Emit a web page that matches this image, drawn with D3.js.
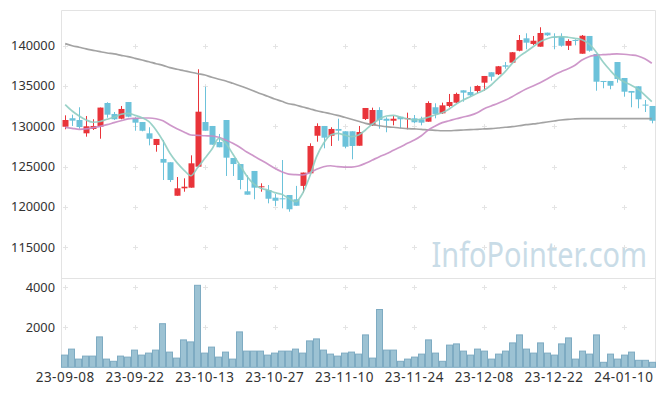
<!DOCTYPE html>
<html>
<head>
<meta charset="utf-8">
<script src="https://cdn.jsdelivr.net/npm/d3@7"></script>
<style>
  body { margin: 0; background: #fff; }
  svg { display: block; font-family: "Noto Sans", sans-serif; }
</style>
</head>
<body>
<div id="chart"></div>
<script>
// Trading days (KRX)
const dates = [
  "23-09-08","23-09-11","23-09-12","23-09-13","23-09-14","23-09-15","23-09-18","23-09-19","23-09-20","23-09-21",
  "23-09-22","23-09-25","23-09-26","23-09-27","23-10-04","23-10-05","23-10-06","23-10-10","23-10-11","23-10-12",
  "23-10-13","23-10-16","23-10-17","23-10-18","23-10-19","23-10-20","23-10-23","23-10-24","23-10-25","23-10-26",
  "23-10-27","23-10-30","23-10-31","23-11-01","23-11-02","23-11-03","23-11-06","23-11-07","23-11-08","23-11-09",
  "23-11-10","23-11-13","23-11-14","23-11-15","23-11-16","23-11-17","23-11-20","23-11-21","23-11-22","23-11-23",
  "23-11-24","23-11-27","23-11-28","23-11-29","23-11-30","23-12-01","23-12-04","23-12-05","23-12-06","23-12-07",
  "23-12-08","23-12-11","23-12-12","23-12-13","23-12-14","23-12-15","23-12-18","23-12-19","23-12-20","23-12-21",
  "23-12-22","23-12-26","23-12-27","23-12-28","24-01-02","24-01-03","24-01-04","24-01-05","24-01-08","24-01-09",
  "24-01-10","24-01-11","24-01-12","24-01-15","24-01-16"
];

const openP = [
  129950,131000,130780,129130,129670,129950,132890,131530,130940,133010,
  131030,130530,129130,127680,125950,125540,121390,122310,122390,124990,
  130530,130040,128050,130780,126070,125320,121940,124460,122450,122100,
  121150,121070,121480,120950,122610,124170,128830,130040,128830,129670,
  129380,129380,127590,130910,130120,132020,130940,130690,131190,130870,
  130990,130870,130570,132360,131610,132520,132930,134460,134250,134380,
  135410,136700,136450,137560,137890,139370,140910,140210,139870,141610,
  141110,141110,139990,140700,139000,141200,138970,135620,135620,137970,
  135990,134380,134960,132690,132520
];
const highP = [
  131360,131440,132360,131280,130870,132320,132980,131770,132520,133010,
  131120,130530,129880,128430,128300,125540,123710,123550,126400,137070,
  134910,130040,129050,130780,126070,125320,123920,124460,122930,122720,
  121610,125820,121480,122610,124260,127890,130370,130040,129880,130940,
  129380,129380,130040,132270,132310,132360,131120,131280,131190,131690,
  131400,131190,133100,132850,132930,134010,134170,134460,134910,135080,
  136240,136700,137480,137970,139210,141320,141530,141200,142280,141610,
  141530,141530,140790,140790,141320,141200,138970,135620,135620,137970,
  135990,134380,134960,133260,132520
];
const lowP = [
  129630,130040,129700,128710,129540,128460,131070,130780,130870,131120,
  129450,129380,127640,126850,123340,123090,121390,121890,122390,124920,
  129450,127720,127400,123840,123840,122190,121520,120950,121890,120450,
  120120,119830,119410,120150,121780,124170,128090,127270,127560,128210,
  127270,125910,127590,130780,130040,129700,129260,130120,129750,129630,
  130370,130120,130570,130990,131530,132360,132850,133050,133670,134090,
  134410,135650,136360,137140,137810,139300,139550,140080,139870,141200,
  139550,139870,139460,140040,139000,139250,134410,134710,134590,135410,
  133670,132360,132230,131770,130370
];
const closeP = [
  130780,130700,129910,130000,130040,132320,131440,130870,132150,131190,
  130450,129450,128460,128430,125490,123340,122310,122510,125410,131810,
  129450,127720,127400,126110,125320,123340,121520,122390,122560,121020,
  120770,120990,119710,120150,124260,127560,130040,128590,129670,129450,
  127470,127560,129290,132270,132020,130780,130690,130940,130870,131030,
  130500,130450,132890,131530,132600,133010,134010,134170,133840,135000,
  136240,136150,137440,137390,139180,140700,140370,140610,141570,141280,
  141040,139990,140580,140610,141230,139370,135530,135490,135030,135870,
  134290,134170,133350,132610,130690
];
const volume = [
  610,910,410,560,560,1520,410,300,560,510,
  860,610,710,860,2180,760,460,1370,1270,4100,
  710,1010,510,760,410,1770,810,810,810,610,
  710,810,810,910,710,1320,1420,860,660,560,
  710,760,660,1620,460,2890,860,860,300,410,
  510,660,1370,710,300,1110,1170,810,610,910,
  810,410,660,810,1220,1620,910,710,1220,710,
  610,1170,1470,410,810,660,1620,250,660,410,
  610,760,350,350,250
];
const ma5 = [
  132700,131900,131280,130780,130500,130600,130870,131120,131490,131610,
  131360,131070,130570,129540,128210,126650,125490,124580,123870,124920,
  126030,127150,128510,127890,126560,125200,123840,122850,122310,122100,
  121770,121570,121070,120650,121690,123750,126230,127890,128920,129130,
  128920,128710,128920,129540,130290,130910,131280,131360,131120,130940,
  130780,130910,131120,131440,131690,132150,132770,133260,133670,134090,
  134500,135120,135950,136770,137810,138630,139250,139870,140490,140860,
  141070,141110,141040,140910,140740,140210,139250,138010,136980,136080,
  135530,135120,134630,133880,133050
];
const ma20 = [
  129880,129750,129630,129670,129830,130000,130200,130450,130690,130910,
  130990,131030,131030,130940,130690,130160,129700,129290,128920,128880,
  128830,128800,128640,128300,127890,127400,126810,126320,125820,125320,
  124790,124370,124080,124000,123960,124250,124670,124990,125110,124990,
  124950,124950,125080,125410,125820,126230,126600,127020,127430,127890,
  128300,128830,129540,130040,130450,130690,130940,131150,131360,131690,
  132180,132520,132850,133220,133670,134170,134630,135000,135410,135870,
  136360,136770,137140,137560,138220,138630,138800,138880,138930,138970,
  138930,138840,138720,138380,137810
];
const ma60 = [
  140250,139990,139800,139590,139420,139250,139090,138970,138800,138630,
  138430,138220,138010,137760,137560,137270,137070,136890,136700,136520,
  136360,136080,135830,135620,135330,135030,134710,134380,134040,133720,
  133390,133100,132800,132640,132390,132180,131930,131740,131560,131360,
  131120,130870,130620,130370,130200,130070,129950,129880,129790,129700,
  129670,129630,129540,129500,129450,129450,129500,129540,129580,129630,
  129670,129700,129790,129880,129950,130070,130200,130290,130410,130530,
  130660,130780,130870,130910,130940,130950,130950,130950,130950,130950,
  130950,130950,130950,130950,130950
];

const priceTicks = [115000, 120000, 125000, 130000, 135000, 140000];
const volTicks = [2000, 4000];
const labelEvery = 10;

const width = 665, height = 396;
const left = 61, right = 656;
const priceTop = 10, priceBottom = 278;
const volTop = 278, volBottom = 367.3;

const svg = d3.select("#chart").append("svg")
  .attr("width", width)
  .attr("height", height);

const idx = d3.range(dates.length);

// x scales
const x = d3.scaleBand().domain(idx).range([left, right]).padding(0.2);
const xv = d3.scaleBand().domain(idx).range([left, right]).padding(0);
const cx = i => x(i) + x.bandwidth() / 2;

// y scales
const y = d3.scaleLinear().domain([111190, 144420]).range([priceBottom, priceTop]);
const yv = d3.scaleLinear().domain([0, 4465]).range([volBottom, volTop]);

const labelIdx = idx.filter(i => i % labelEvery === 0);

// panel borders
svg.append("path")
  .attr("d", `M${left + 0.5},${volBottom} V${priceTop + 0.5} H${right - 0.5} V${volBottom}`)
  .attr("fill", "none")
  .attr("stroke", "#e3e3e3");
svg.append("line")
  .attr("x1", left).attr("x2", right)
  .attr("y1", volTop + 0.5).attr("y2", volTop + 0.5)
  .attr("stroke", "#e3e3e3");

// grid crosses
const crosses = [];
labelIdx.forEach(i => {
  priceTicks.forEach(v => crosses.push([cx(i), y(v)]));
  volTicks.forEach(v => crosses.push([cx(i), yv(v)]));
});
svg.append("g").selectAll("path")
  .data(crosses)
  .enter()
  .append("path")
  .attr("d", d => `M${Math.round(d[0]) - 2},${Math.round(d[1]) + 0.5} h5 M${Math.round(d[0]) + 0.5},${Math.round(d[1]) - 2} v5`)
  .attr("stroke", "#e4e4e4")
  .attr("stroke-width", 1);

// watermark (slightly condensed)
svg.append("text")
  .attr("transform", "translate(647,267) scale(0.85,1)")
  .attr("text-anchor", "end")
  .attr("fill", "#c9dce7")
  .attr("font-size", 34)
  .text("InfoPointer.com");

// y axis labels
svg.append("g").selectAll("text")
  .data(priceTicks)
  .enter()
  .append("text")
  .attr("x", 55)
  .attr("y", d => y(d))
  .attr("dy", "0.35em")
  .attr("text-anchor", "end")
  .attr("font-size", 12.8)
  .attr("fill", "#333")
  .text(d => d);

svg.append("g").selectAll("text")
  .data(volTicks)
  .enter()
  .append("text")
  .attr("x", 55)
  .attr("y", d => yv(d))
  .attr("dy", "0.35em")
  .attr("text-anchor", "end")
  .attr("font-size", 12.8)
  .attr("fill", "#333")
  .text(d => d);

// x axis labels
svg.append("g").selectAll("text")
  .data(labelIdx)
  .enter()
  .append("text")
  .attr("x", d => cx(d))
  .attr("y", 382)
  .attr("text-anchor", "middle")
  .attr("font-size", 13.5)
  .attr("letter-spacing", 0.5)
  .attr("fill", "#333")
  .text(d => dates[d]);

// volume bars
svg.append("g").selectAll("rect")
  .data(idx)
  .enter()
  .append("rect")
  .attr("x", i => xv(i) + 0.5)
  .attr("y", i => yv(volume[i]))
  .attr("width", xv.bandwidth() - 1)
  .attr("height", i => volBottom - yv(volume[i]))
  .attr("fill", "#9cc2d3")
  .attr("stroke", "#7eabc2")
  .attr("stroke-width", 1);

// candles
const up = "#e9343a", down = "#6cc2da";
const candle = svg.append("g").selectAll("g")
  .data(idx)
  .enter()
  .append("g");

candle.append("line")
  .attr("x1", i => Math.round(cx(i)) + 0.5)
  .attr("x2", i => Math.round(cx(i)) + 0.5)
  .attr("y1", i => y(highP[i]))
  .attr("y2", i => y(lowP[i]))
  .attr("stroke", i => closeP[i] >= openP[i] ? up : down)
  .attr("stroke-width", 1);

candle.append("rect")
  .attr("x", i => Math.round(cx(i)) + 0.5 - 3)
  .attr("y", i => y(Math.max(openP[i], closeP[i])))
  .attr("width", 6)
  .attr("height", i => Math.max(1, Math.abs(y(openP[i]) - y(closeP[i]))))
  .attr("fill", i => closeP[i] >= openP[i] ? up : down);

// moving averages
const line = d3.line()
  .x((d, i) => cx(i))
  .y(d => y(d))
  .curve(d3.curveMonotoneX);

[[ma60, "#999999"], [ma20, "#c98cc4"], [ma5, "#8fcdc2"]].forEach(([data, color]) => {
  svg.append("path")
    .datum(data)
    .attr("d", line)
    .attr("fill", "none")
    .attr("stroke", color)
    .attr("stroke-width", 1.7)
    .attr("stroke-opacity", 0.9);
});
</script>
</body>
</html>
